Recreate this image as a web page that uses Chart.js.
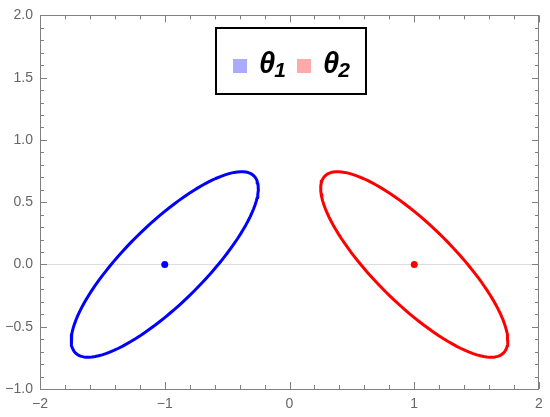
<!DOCTYPE html>
<html>
<head>
<meta charset="utf-8">
<script src="https://cdn.jsdelivr.net/npm/chart.js@4"></script>
<style>
  html, body { margin: 0; padding: 0; background: #fff; }
  #wrap { width: 550px; height: 417px; }
</style>
</head>
<body>
<div id="wrap"><canvas id="chart"></canvas></div>
<script>
"use strict";

// Data
const seriesNames = ["θ", "θ"];
const seriesSubs = ["1", "2"];
const centersX = [-1, 1];
const centersY = [0, 0];
const spreadX = [0.75, 0.75];   // half width of each ellipse
const spreadY = [0.745, 0.745]; // half height of each ellipse
const correlation = [0.82, -0.82];
const lineColors = ["#0000ff", "#ff0000"];
const legendColors = ["#aaaaff", "#ffaaaa"];
const xTicks = [-2, -1, 0, 1, 2];
const yTicks = [-1, -0.5, 0, 0.5, 1, 1.5, 2];

// outline of ellipse i
function ellipse(i) {
  const pts = [];
  const n = 120;
  const r = correlation[i];
  for (let k = 0; k <= n; k++) {
    const t = (2 * Math.PI * k) / n;
    pts.push({
      x: centersX[i] + spreadX[i] * Math.cos(t),
      y: centersY[i] + spreadY[i] * (r * Math.cos(t) + Math.sqrt(1 - r * r) * Math.sin(t)),
    });
  }
  return pts;
}

const minus = (s) => s.replace("-", "\u2212");

const datasets = [];
for (let i = 0; i < centersX.length; i++) {
  datasets.push({
    data: ellipse(i),
    showLine: true,
    borderColor: lineColors[i],
    borderWidth: 3,
    borderJoinStyle: "round",
    borderCapStyle: "round",
    pointRadius: 0,
    tension: 0,
  });
  datasets.push({
    data: [{ x: centersX[i], y: centersY[i] }],
    backgroundColor: lineColors[i],
    borderWidth: 0,
    pointRadius: 3.5,
  });
}

// frame with inward ticks, like the original
const framePlugin = {
  id: "frame",
  afterDatasetsDraw(chart) {
    const { ctx, chartArea: a, scales } = chart;
    const xs = scales.x, ys = scales.y;
    ctx.save();
    ctx.strokeStyle = "#808080";
    ctx.lineWidth = 1;
    ctx.beginPath();
    ctx.rect(Math.round(a.left) + 0.5, Math.round(a.top) + 0.5,
      Math.round(a.right - a.left) - 1, Math.round(a.bottom - a.top));
    // x ticks every 0.2, major at integers
    for (let k = -10; k <= 10; k++) {
      const v = k / 5;
      const px = Math.round(xs.getPixelForValue(v)) + 0.5;
      const len = k % 5 === 0 ? 7 : 4;
      ctx.moveTo(px, a.bottom);
      ctx.lineTo(px, a.bottom - len);
      ctx.moveTo(px, a.top);
      ctx.lineTo(px, a.top + len);
    }
    // y ticks every 0.1, major at 0.5
    for (let k = -10; k <= 20; k++) {
      const v = k / 10;
      const py = Math.round(ys.getPixelForValue(v)) + 0.5;
      const len = k % 5 === 0 ? 7 : 4;
      ctx.moveTo(a.left, py);
      ctx.lineTo(a.left + len, py);
      ctx.moveTo(a.right, py);
      ctx.lineTo(a.right - len, py);
    }
    ctx.stroke();
    ctx.restore();
  },
};

// framed legend inside the plot
const legendPlugin = {
  id: "boxLegend",
  afterDraw(chart) {
    const ctx = chart.ctx;
    ctx.save();
    ctx.fillStyle = "#fff";
    ctx.fillRect(216, 28, 150, 66);
    ctx.strokeStyle = "#000";
    ctx.lineWidth = 2;
    ctx.strokeRect(216, 28, 150, 66);
    const starts = [233, 297];
    for (let i = 0; i < 2; i++) {
      const x0 = starts[i];
      ctx.fillStyle = legendColors[i];
      ctx.fillRect(x0, 59, 14, 14);
      ctx.fillStyle = "#000";
      ctx.textBaseline = "alphabetic";
      ctx.font = 'bold italic 29px "Liberation Sans"';
      ctx.fillText(seriesNames[i], x0 + 26, 73);
      const w = ctx.measureText(seriesNames[i]).width;
      ctx.font = 'bold italic 21px "Liberation Sans"';
      ctx.fillText(seriesSubs[i], x0 + 25 + w, 77);
    }
    ctx.restore();
  },
};

new Chart(document.getElementById("chart"), {
  type: "scatter",
  data: { datasets: datasets },
  options: {
    responsive: true,
    maintainAspectRatio: false,
    animation: false,
    layout: { padding: { left: 0, top: 14, right: 11, bottom: 0 } },
    plugins: { legend: { display: false }, tooltip: { enabled: false } },
    scales: {
      x: {
        type: "linear",
        min: -2,
        max: 2,
        afterFit: (s) => { s.height = 28; },
        afterBuildTicks: (s) => { s.ticks = xTicks.map((v) => ({ value: v })); },
        border: { display: false },
        grid: { display: false, drawTicks: false },
        ticks: {
          padding: 7,
          color: "#666",
          font: { family: "Liberation Sans", size: 14 },
          maxRotation: 0,
          callback: (v) => minus(String(v)),
        },
      },
      y: {
        type: "linear",
        min: -1,
        max: 2,
        afterFit: (s) => { s.width = 40; },
        afterBuildTicks: (s) => { s.ticks = yTicks.map((v) => ({ value: v })); },
        border: { display: false },
        grid: {
          drawTicks: false,
          color: (c) => (c.tick && c.tick.value === 0 ? "#ddd" : "rgba(0,0,0,0)"),
        },
        ticks: {
          padding: 7,
          color: "#666",
          font: { family: "Liberation Sans", size: 14 },
          callback: (v) => minus(v.toFixed(1)),
        },
      },
    },
  },
  plugins: [framePlugin, legendPlugin],
});
</script>
</body>
</html>
